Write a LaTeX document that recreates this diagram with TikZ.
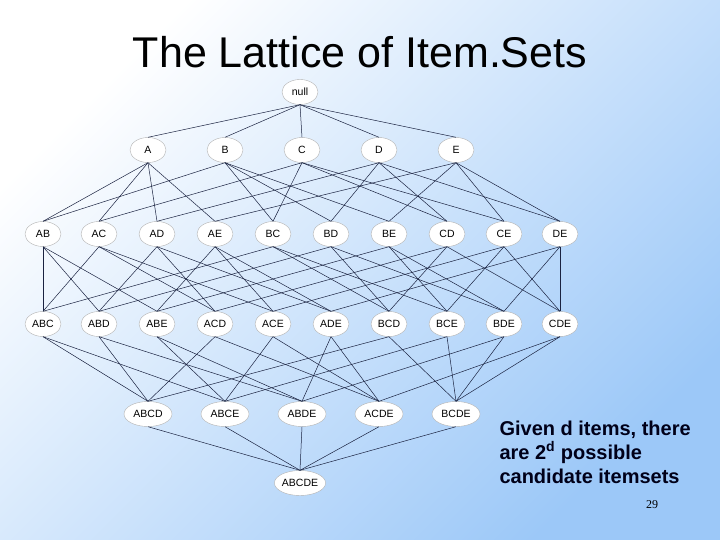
\documentclass[tikz,border=0pt]{standalone}
\usepackage{fontspec}
\setmainfont{Liberation Sans}
\usetikzlibrary{shapes.geometric}
\definecolor{bgblue}{HTML}{9CC8F8}
\definecolor{edgec}{HTML}{1A2240}
\begin{document}
\begin{tikzpicture}[x=1pt,y=-1pt,
  itm/.style={ellipse,draw=gray!60,fill=white,minimum width=36pt,minimum height=25pt,inner sep=0pt,font=\fontsize{10.5}{12}\selectfont},
  lnk/.style={draw=edgec,line width=0.5pt}]
\useasboundingbox (0,0) rectangle (720,540);
\shade[shading=axis,left color=white,right color=bgblue,shading angle=45] (0,0) rectangle (720,540);
\node[font=\fontsize{43}{48}\selectfont] (title) at (360,52) {The Lattice of Item.Sets};
\node[itm] (null) at (300,92) {null};
\foreach \n/\x in {A/148,B/225,C/302,D/379,E/456} \node[itm] (\n) at (\x,150) {\n};
\foreach \n/\x in {AB/43,AC/99,AD/157,AE/215,BC/273,BD/331,BE/389,CD/447,CE/504,DE/560} \node[itm] (\n) at (\x,234) {\n};
\foreach \n/\x in {ABC/43,ABD/99,ABE/157,ACD/215,ACE/273,ADE/331,BCD/389,BCE/447,BDE/504,CDE/560} \node[itm] (\n) at (\x,324) {\n};
\foreach \n/\x in {ABCD/148,ABCE/225,ABDE/302,ACDE/379,BCDE/456} \node[itm,minimum width=48pt] (\n) at (\x,414) {\n};
\node[itm,minimum width=50pt] (ABCDE) at (300,483) {ABCDE};
\foreach \u/\v in {null/A,null/B,null/C,null/D,null/E,
  A/AB,A/AC,A/AD,A/AE,B/AB,B/BC,B/BD,B/BE,C/AC,C/BC,C/CD,C/CE,D/AD,D/BD,D/CD,D/DE,E/AE,E/BE,E/CE,E/DE,
  AB/ABC,AC/ABC,BC/ABC,AB/ABD,AD/ABD,BD/ABD,AB/ABE,AE/ABE,BE/ABE,AC/ACD,AD/ACD,CD/ACD,AC/ACE,AE/ACE,CE/ACE,
  AD/ADE,AE/ADE,DE/ADE,BC/BCD,BD/BCD,CD/BCD,BC/BCE,BE/BCE,CE/BCE,BD/BDE,BE/BDE,DE/BDE,CD/CDE,CE/CDE,DE/CDE,
  ABC/ABCD,ABD/ABCD,ACD/ABCD,BCD/ABCD,ABC/ABCE,ABE/ABCE,ACE/ABCE,BCE/ABCE,ABD/ABDE,ABE/ABDE,ADE/ABDE,BDE/ABDE,
  ACD/ACDE,ACE/ACDE,ADE/ACDE,CDE/ACDE,BCD/BCDE,BCE/BCDE,BDE/BCDE,CDE/BCDE,
  ABCD/ABCDE,ABCE/ABCDE,ABDE/ABCDE,ACDE/ABCDE,BCDE/ABCDE}
  \draw[lnk] (\u.south) -- (\v.north);
\node[anchor=north west,align=left,font=\bfseries\fontsize{20}{24}\selectfont,text=black!90!blue] (note) at (496,417)
  {Given d items, there\\are 2\textsuperscript{d} possible\\candidate itemsets};
\node[font=\fontsize{12}{14}\selectfont] (pg) at (652,505) {\fontspec{Liberation Serif}29};
\end{tikzpicture}
\end{document}
